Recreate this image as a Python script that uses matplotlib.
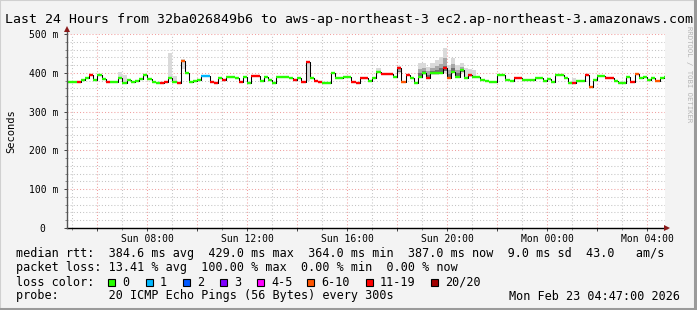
import numpy as np
import matplotlib
matplotlib.use("Agg")
import matplotlib.pyplot as plt
from matplotlib.patches import Rectangle
from matplotlib.lines import Line2D

# ---------------- data ----------------
title = "Last 24 Hours from 32ba026849b6 to aws-ap-northeast-3 ec2.ap-northeast-3.amazonaws.com"

start_hour = 4.8333          # Sun 04:50, hours since Sun 00:00
step_hours = 1.0 / 6.0       # 10-minute samples

median_ms = [
    377, 377, 377, 381, 386, 394, 381, 394, 383, 377,
    376, 377, 386, 375, 381, 377, 380, 383, 394, 383,
    376, 375, 375, 377, 386, 376, 375, 430, 399, 376,
    378, 381, 392, 392, 376, 373, 386, 381, 390, 390,
    386, 377, 390, 373, 391, 391, 380, 390, 381, 375,
    390, 388, 388, 386, 381, 386, 377, 429, 386, 380,
    377, 373, 373, 399, 386, 386, 388, 388, 377, 373,
    386, 386, 380, 386, 403, 397, 397, 397, 390, 412,
    377, 394, 386, 373, 390, 399, 386, 399, 399, 399,
    412, 386, 403, 390, 407, 386, 394, 390, 390, 381,
    380, 377, 377, 394, 394, 381, 379, 386, 386, 381,
    381, 381, 386, 386, 379, 383, 377, 394, 394, 386,
    375, 375, 379, 379, 394, 364, 381, 392, 392, 386,
    386, 380, 375, 375, 390, 377, 397, 386, 390, 381,
    386, 379, 386, 388,
]

# lost pings (out of 20) per sample; samples not listed lost 0
loss_idx = [2, 5, 9, 22, 23, 26, 27, 32, 33, 34, 35, 37, 41, 44, 45, 54, 56, 57,
            59, 60, 68, 69, 70, 71, 75, 76, 77, 79, 80, 81, 86, 90, 91, 96, 107,
            108, 121, 124, 125, 129, 130, 135, 136, 141]
loss_cnt = [15, 15, 15, 15, 15, 15, 8, 1, 1, 15, 15, 15, 15, 15, 15, 15, 15, 15,
            15, 15, 15, 15, 15, 15, 15, 15, 15, 15, 8, 15, 15, 15, 8, 15, 15,
            15, 15, 15, 8, 15, 15, 15, 8, 8]

# smoke (spread of individual pings) for selected samples
smoke_idx = [12, 13, 24, 25, 27, 57, 74, 79, 84, 85, 86, 87, 88, 89, 90, 91, 92,
             93, 94, 95, 96, 97, 121]
smoke_lo = [386, 375, 386, 376, 410, 380, 400, 400, 388, 395, 386, 395, 395, 399,
            399, 386, 400, 390, 400, 386, 390, 388, 375]
smoke_hi = [403, 395, 450, 392, 436, 429, 412, 418, 425, 425, 415, 425, 433, 440,
            464, 420, 438, 420, 425, 412, 410, 408, 386]
smoke_dense = [0, 0, 0, 0, 0, 0, 0, 1, 1, 1, 1, 1, 1, 1, 1, 1, 1, 1, 1, 0, 0, 0, 0]

loss_labels = ["0", "1", "2", "3", "4-5", "6-10", "11-19", "20/20"]
loss_colors = ["#26ff00", "#00b8ff", "#0059ff", "#7e00ff", "#ff00ff",
               "#ff5500", "#ff0000", "#a10000"]

x_tick_hours = [6, 8, 10, 12, 14, 16, 18, 20, 22, 24, 26, 28]
x_tick_labels = ["", "Sun 08:00", "", "Sun 12:00", "", "Sun 16:00", "",
                 "Sun 20:00", "", "Mon 00:00", "", "Mon 04:00"]
y_ticks = [0, 100, 200, 300, 400, 500]
y_tick_labels = ["0\u00a0\u00a0", "100 m", "200 m", "300 m", "400 m", "500 m"]

stats_line1 = "median rtt:  384.6 ms avg  429.0 ms max  364.0 ms min  387.0 ms now  9.0 ms sd  43.0   am/s"
stats_line2 = "packet loss: 13.41 % avg  100.00 % max  0.00 % min  0.00 % now"
probe_line = "probe:       20 ICMP Echo Pings (56 Bytes) every 300s"
date_text = "Mon Feb 23 04:47:00 2026"

# ---------------- figure ----------------
W, H = 697, 310
MONO = "DejaVu Sans Mono"
fig = plt.figure(figsize=(W / 100, H / 100), dpi=100)
fig.patch.set_facecolor("#f3f3f3")

def fx(px):
    return px / W

def fy(py):
    return 1 - py / H

ax = fig.add_axes([fx(67), fy(228), fx(665) - fx(67), fy(34) - fy(228)])
ax.set_facecolor("white")

n = len(median_ms)
t = start_hour + step_hours * np.arange(n)
med = np.array(median_ms, dtype=float)

def loss_class(c):
    if c == 0:
        return 0
    if c <= 3:
        return c
    if c <= 5:
        return 4
    if c <= 10:
        return 5
    if c <= 19:
        return 6
    return 7

loss = np.zeros(n, dtype=int)
for i, c in zip(loss_idx, loss_cnt):
    loss[i] = c

# smoke
for i, lo, hi, dense in zip(smoke_idx, smoke_lo, smoke_hi, smoke_dense):
    ax.bar(t[i], hi - lo, bottom=lo, width=step_hours, align="edge",
           color="#dadada", linewidth=0, zorder=2)
    if dense:
        mid_lo = lo + (hi - lo) * 0.1
        mid_hi = lo + (hi - lo) * 0.6
        ax.bar(t[i], mid_hi - mid_lo, bottom=mid_lo, width=step_hours, align="edge",
               color="#a8a8a8", linewidth=0, zorder=2)
        ax.bar(t[i], (mid_hi - mid_lo) * 0.4, bottom=mid_lo, width=step_hours,
               align="edge", color="#707070", linewidth=0, zorder=2)

# median step line (black connector)
tt = np.append(t, t[-1] + step_hours)
mm = np.append(med, med[-1])
ax.step(tt, mm, where="post", color="black", lw=0.75, zorder=3)

# colored median segments
for i in range(n):
    ax.hlines(med[i], t[i], t[i] + step_hours, colors=loss_colors[loss_class(loss[i])],
              lw=1.7, zorder=4)

ax.set_xlim(4.783, 28.72)
ax.set_ylim(0, 500)

ax.set_xticks(x_tick_hours)
ax.set_xticklabels(x_tick_labels, fontfamily=MONO, fontsize=7)
ax.set_xticks(np.arange(5, 29, 1), minor=True)
ax.set_yticks(y_ticks)
ax.set_yticklabels(y_tick_labels, fontfamily=MONO, fontsize=7)
ax.set_yticks(np.arange(0, 501, 20), minor=True)

ax.grid(which="major", color="#f0a0a0", linestyle=(0, (1, 2)), lw=0.75)
ax.grid(which="minor", color="#c4c4c4", linestyle=(0, (1, 2)), lw=0.75)
ax.set_axisbelow(True)

ax.tick_params(axis="both", which="major", length=2, width=0.7, color="#444444",
               labelcolor="black")
ax.tick_params(axis="x", which="major", pad=2.5)
ax.tick_params(axis="y", which="major", pad=4.5)
ax.tick_params(axis="both", which="minor", length=1.2, width=0.6, color="#777777")

for s in ["top", "right", "left", "bottom"]:
    ax.spines[s].set_visible(False)

# axes lines with arrows
fig.add_artist(Line2D([fx(67), fx(667)], [fy(228), fy(228)], color="black", lw=1.0))
fig.add_artist(Line2D([fx(67), fx(67)], [fy(228), fy(30)], color="#555555", lw=1.0))
fig.add_artist(Line2D([fx(667)], [fy(228)], marker=">", color="#8b1a1a",
                      markersize=4.5, markeredgewidth=0))
fig.add_artist(Line2D([fx(67)], [fy(29)], marker="^", color="#8b1a1a",
                      markersize=4.5, markeredgewidth=0))

# title and side texts
fig.text(fx(5), fy(19), title, fontfamily=MONO, fontsize=9.5, va="center", ha="left")
fig.text(fx(11), fy(131), "Seconds", fontfamily=MONO, fontsize=7.5, rotation=90,
         va="center", ha="center")
fig.text(fx(689), fy(26), "RRDTOOL / TOBI OETIKER", fontfamily=MONO, fontsize=5.2,
         rotation=270, va="top", ha="center", color="#b4b4b4")

# legend / stats
fs = 8.5
fig.text(fx(16), fy(254), stats_line1, fontfamily=MONO, fontsize=fs, va="center")
fig.text(fx(16), fy(268), stats_line2, fontfamily=MONO, fontsize=fs, va="center")
fig.text(fx(16), fy(282), "loss color:", fontfamily=MONO, fontsize=fs, va="center")
box_x = [108, 146, 183, 220, 257, 307, 366, 431]
for bx, lab, col in zip(box_x, loss_labels, loss_colors):
    fig.add_artist(Rectangle((fx(bx), fy(286)), fx(7), 7 / H, facecolor=col,
                             edgecolor="black", lw=0.8))
    fig.text(fx(bx + 14), fy(282), lab, fontfamily=MONO, fontsize=fs, va="center")
fig.text(fx(16), fy(296), probe_line, fontfamily=MONO, fontsize=fs, va="center")
fig.text(fx(680), fy(296), date_text, fontfamily=MONO, fontsize=fs, va="center",
         ha="right")

# outer frame
fig.add_artist(Rectangle((0, 0), 1, 1, fill=False, edgecolor="#d0d0d0", lw=1.5))
fig.add_artist(Line2D([fx(694.5), fx(694.5)], [0, 1], color="#9a9a9a", lw=2.2))
fig.add_artist(Line2D([0, 1], [fy(308.5), fy(308.5)], color="#9a9a9a", lw=2.2))

fig.savefig("out.png", dpi=100, facecolor=fig.get_facecolor())
